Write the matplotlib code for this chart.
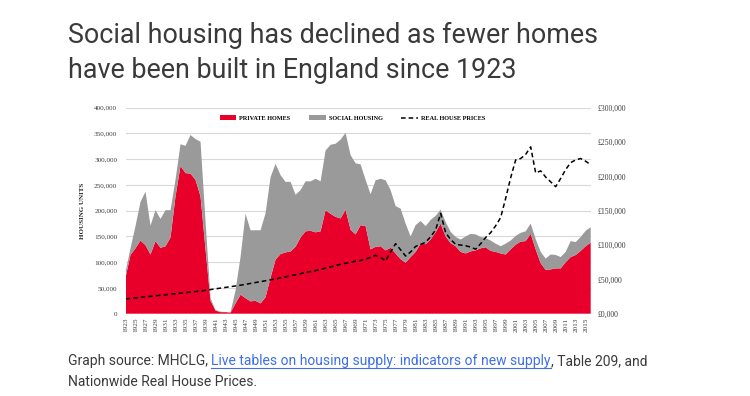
import matplotlib.pyplot as plt
from matplotlib.lines import Line2D
from matplotlib.patches import Patch
import numpy as np

years = np.arange(1923, 2017)

# thousands of dwellings
private_homes = [70, 114, 127, 142, 133, 115, 141, 128, 131, 148,
                 228, 287, 273, 272, 260, 228, 125, 25, 6, 3,
                 3, 2, 20, 37, 30, 24, 25, 20, 32, 70,
                 105, 116, 119, 121, 130, 148, 160, 161, 158, 160,
                 201, 194, 188, 185, 202, 163, 154, 172, 170, 125,
                 130, 131, 123, 128, 117, 106, 99, 110, 120, 136,
                 135, 144, 158, 175, 150, 137, 131, 120, 117, 121,
                 123, 127, 129, 122, 120, 117, 115, 125, 134, 140,
                 141, 155, 125, 98, 85, 86, 88, 88, 100, 110,
                 114, 122, 131, 138]
all_homes = [80, 127, 170, 217, 237, 171, 201, 184, 201, 201,
             260, 329, 326, 347, 339, 334, 180, 30, 7, 4,
             3, 3, 45, 110, 194, 162, 162, 162, 195, 265,
             291, 269, 256, 256, 231, 240, 257, 257, 262, 257,
             317, 328, 330, 338, 351, 308, 292, 290, 260, 232,
             259, 262, 259, 240, 209, 204, 175, 150, 172, 180,
             170, 182, 190, 202, 178, 159, 149, 144, 150, 155,
             154, 149, 147, 142, 136, 131, 136, 142, 151, 157,
             160, 175, 145, 120, 107, 115, 114, 110, 120, 141,
             139, 149, 161, 168]
# real house prices, £ thousands
real_prices = [21.5, 22.3, 23.0, 23.8, 24.6, 25.3, 26.1, 26.9, 27.6, 28.4,
               29.2, 29.9, 30.7, 31.5, 32.2, 33.0, 34.1, 35.1, 36.2, 37.3,
               38.3, 39.4, 40.4, 41.5, 42.8, 44.1, 45.4, 46.7, 48.0, 49.3,
               50.6, 52.2, 53.7, 55.3, 56.8, 58.3, 59.8, 61.3, 62.8, 64.6,
               66.4, 68.2, 70.0, 72.0, 73.5, 75.0, 76.5, 77.5, 79.5, 82.0,
               85.0, 82.0, 77.0, 90.0, 102.0, 93.0, 84.0, 90.0, 98.0, 101.0,
               104.0, 112.0, 122.0, 146.0, 118.0, 108.0, 101.0, 100.0, 99.0, 97.0,
               94.0, 102.0, 111.0, 118.0, 128.0, 140.0, 168.0, 198.0, 224.0, 226.0,
               232.0, 243.0, 205.0, 208.0, 199.0, 192.0, 185.0, 197.0, 210.0, 220.0,
               224.0, 226.0, 222.0, 217.0]

unit_ticks = [0, 50000, 100000, 150000, 200000, 250000, 300000, 350000, 400000]
unit_labels = ["0", "50,000", "100,000", "150,000", "200,000", "250,000",
               "300,000", "350,000", "400,000"]
price_ticks = [0, 50000, 100000, 150000, 200000, 250000, 300000]
price_labels = ["£0,000", "£50,000", "£100,000", "£150,000", "£200,000",
                "£250,000", "£300,000"]
legend_labels = ["PRIVATE HOMES", "SOCIAL HOUSING", "REAL HOUSE PRICES"]

title_lines = ["Social housing has declined as fewer homes",
               "have been built in England since 1923"]

RED = "#E9002A"
GREY = "#9A9A9A"
TXT = "#3a3a3a"
LINK = "#3F6FE6"
SERIF = "Liberation Serif"
SANS = "Roboto"
DASH = (0, (3, 2))

W, H = 750, 396
fig = plt.figure(figsize=(W / 100, H / 100), dpi=100)
ax = fig.add_axes([125.5 / W, 1 - 313.7 / H, (590.7 - 125.5) / W, (313.7 - 107.7) / H])

private = np.array(private_homes) * 1000
social = (np.array(all_homes) - np.array(private_homes)) * 1000
ax.stackplot(years, private, social, colors=[RED, GREY], linewidth=0, zorder=2)

ax.set_xlim(years[0], years[-1])
ax.set_ylim(0, 400000)
ax.set_yticks(unit_ticks, unit_labels)
ax.set_xticks(years[::2], [str(y) for y in years[::2]], rotation=90)
ax.grid(axis="y", color="#d9d9d9", lw=0.8)
ax.set_axisbelow(True)
ax.tick_params(length=0, labelsize=5.2, labelcolor="#404040")
ax.tick_params(axis="y", pad=6)
ax.tick_params(axis="x", pad=3)
for lab in ax.get_xticklabels() + ax.get_yticklabels():
    lab.set_fontfamily(SERIF)

ax2 = ax.twinx()
ax2.plot(years, np.array(real_prices) * 1000, color="black", lw=1.1, ls=DASH, zorder=3)
ax2.set_ylim(0, 300000)
ax2.set_yticks(price_ticks, price_labels)
ax2.tick_params(length=0, labelsize=5.6, labelcolor="#404040", pad=5)
for lab in ax2.get_yticklabels():
    lab.set_fontfamily(SERIF)

for a in (ax, ax2):
    for s in a.spines.values():
        s.set_visible(False)

handles = [Patch(facecolor=RED), Patch(facecolor=GREY),
           Line2D([], [], color="black", lw=1.1, ls=DASH)]
ax2.legend(handles, legend_labels, loc="center", bbox_to_anchor=(0.488, 0.95), ncol=3,
           frameon=False, handlelength=2.6, handletextpad=0.5, columnspacing=3.0,
           prop={"family": SERIF, "weight": "bold", "size": 4.5})

fig.text(82 / W, 1 - 210.7 / H, "HOUSING UNITS", rotation=90, ha="center", va="center",
         family=SERIF, weight="bold", size=5, color="#222222")

fig.text(68 / W, 1 - 43.3 / H, title_lines[0], family=SANS, size=19.4, color=TXT, va="baseline")
fig.text(68 / W, 1 - 78.3 / H, title_lines[1], family=SANS, size=19.4, color=TXT, va="baseline")

r = fig.canvas.get_renderer()


def width_of(s, **kw):
    t = fig.text(0, 0, s, **kw)
    w = t.get_window_extent(r).width
    t.remove()
    return w


cap = dict(family=SANS, size=10)
space = width_of("x x", **cap) - width_of("xx", **cap)
x = 68
y1 = 365
runs = [("Graph source: MHCLG,", TXT, False),
        ("Live tables on housing supply: indicators of new supply", LINK, True),
        (", Table 209, and", TXT, False)]
for i, (s, color, underline) in enumerate(runs):
    t = fig.text(x / W, 1 - y1 / H, s, color=color, va="baseline", **cap)
    bb = t.get_window_extent(r)
    if underline:
        fig.add_artist(Line2D([bb.x0 / W, bb.x1 / W], [(H - y1 - 2.5) / H] * 2, color=color, lw=0.8))
    x += bb.width
    if i == 0:
        x += space
fig.text(68 / W, 1 - 386 / H, "Nationwide Real House Prices.", color=TXT, va="baseline", **cap)

fig.savefig("out.png", dpi=100)
